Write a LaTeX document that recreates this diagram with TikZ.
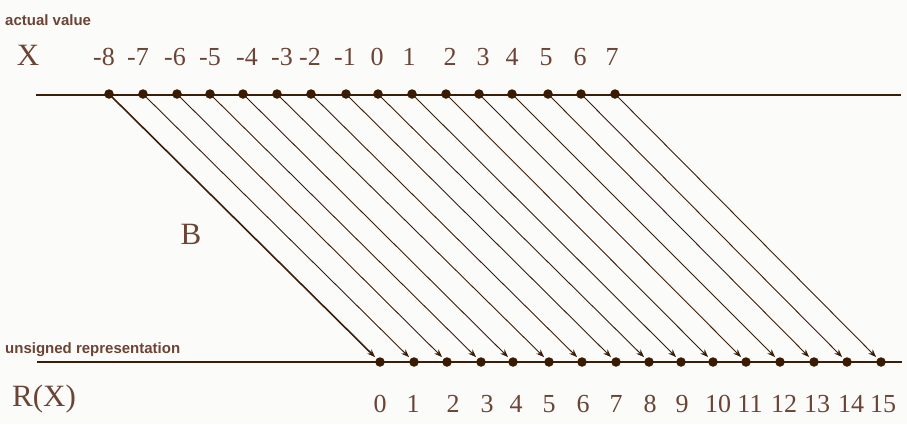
\documentclass[tikz,border=0pt]{standalone}
\usepackage{fontspec}
\setmainfont{Liberation Serif}
\newfontfamily\labfont{Liberation Sans}
\usetikzlibrary{arrows.meta}
\definecolor{bg}{HTML}{FBFBF9}
\definecolor{txt}{HTML}{6B4436}
\definecolor{ln}{HTML}{3A1E08}
\definecolor{dotc}{HTML}{3A1A00}
\tikzset{
  num/.style={anchor=base, text=txt, inner sep=0pt, font=\fontsize{26}{26}\selectfont},
  big/.style={anchor=base, text=txt, inner sep=0pt, font=\fontsize{31}{31}\selectfont},
  captxt/.style={anchor=base west, text=txt, inner sep=0pt, font=\labfont\bfseries\fontsize{15}{15}\selectfont},
  dotpt/.style={circle, fill=dotc, inner sep=0pt, minimum size=9.5pt},
  axis/.style={draw=ln, line width=1.3pt},
  map/.style={draw=ln, line width=0.9pt, -{Stealth[length=8pt,width=6pt]}, shorten >=2pt}
}
\begin{document}
\begin{tikzpicture}[x=1pt,y=-1pt]
\fill[bg] (0,0) rectangle (907,424);
\useasboundingbox (0,0) rectangle (907,424);
% axes
\coordinate (tl) at (36,95); \coordinate (tr) at (901,95);
\coordinate (bl) at (37,362); \coordinate (br) at (902,362);
\draw[axis] (tl) -- (tr);
\draw[axis] (bl) -- (br);
% captions
\node[captxt] (cav) at (5,25) {actual value};
\node[captxt] (cur) at (5,353) {unsigned representation};
\node[big] (lx) at (28,65) {X};
\node[big, anchor=base west] (lr) at (12,406) {R(X)};
\node[big] (lb) at (191,244) {B};
% top dots and labels
\foreach \v/\x/\lx [count=\i] in {-8/109/104,-7/143/138,-6/177/175,-5/210/210,-4/243/247,-3/277/282,-2/311/310,-1/346/345,0/378/377,1/412/409,2/446/450,3/479/483,4/512/512,5/548/546,6/581/580,7/615/612}{
  \node[dotpt] (t\i) at (\x,94) {};
  \node[num] (tl\i) at (\lx,65) {\v};
}
% bottom dots and labels
\foreach \v/\x/\lx [count=\i] in {0/380/380,1/414/413,2/447/453,3/481/487,4/513/516,5/549/549,6/582/583,7/616/616,8/649/650,9/681/682,10/713/718,11/746/750,12/780/784,13/814/817,14/847/851,15/881/883}{
  \node[dotpt] (b\i) at (\x,362) {};
  \node[num] (bl\i) at (\lx,412) {\v};
}
% mapping arrows
\draw[map, line width=1.6pt] (t1.center) -- (b1);
\foreach \i in {2,...,16}{
  \draw[map] (t\i.center) -- (b\i);
}
\end{tikzpicture}
\end{document}
